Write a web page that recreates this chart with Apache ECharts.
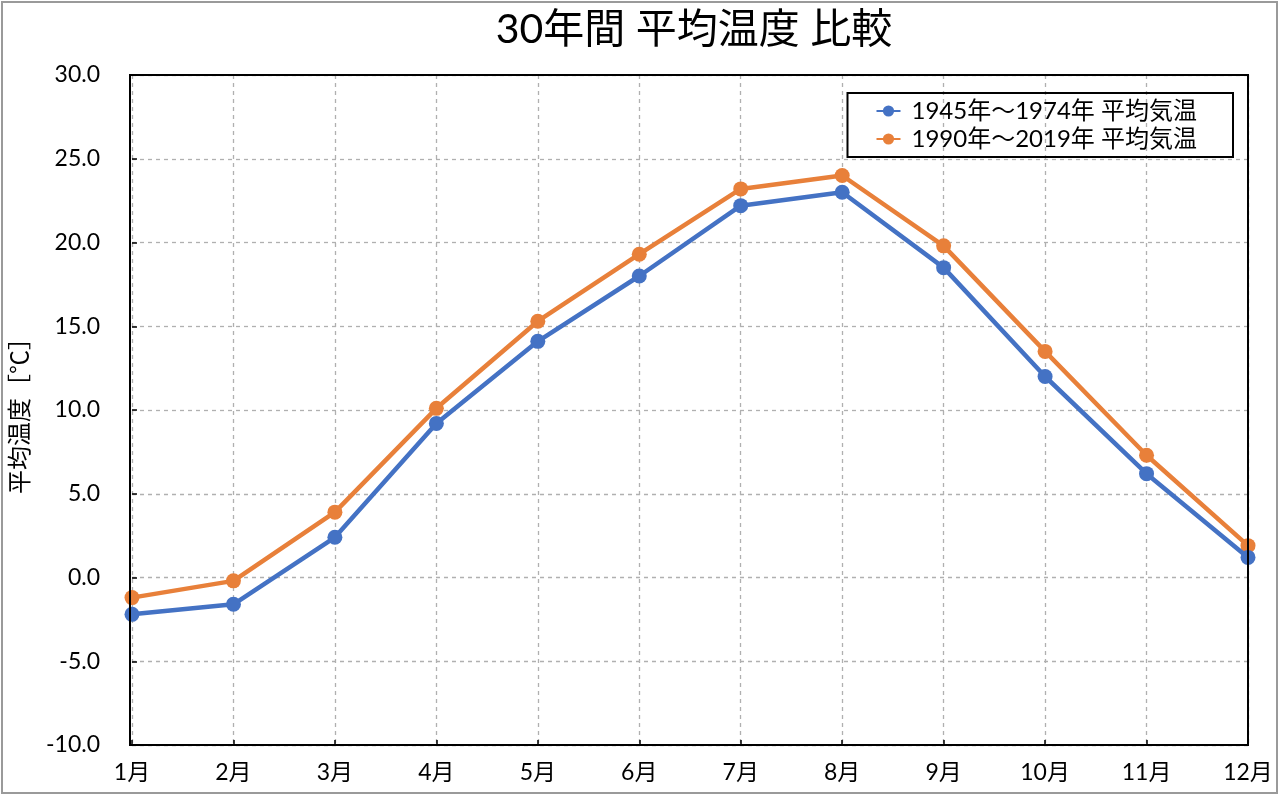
<!DOCTYPE html>
<html><head><meta charset="utf-8">
<script src="https://cdn.jsdelivr.net/npm/echarts@6/dist/echarts.min.js"></script>
<style>html,body{margin:0;padding:0;background:#fff}#c{width:1280px;height:796px}</style>
</head><body><div id="c"></div>
<script>
const months = ['1月','2月','3月','4月','5月','6月','7月','8月','9月','10月','11月','12月'];
const seriesOld = [-2.2,-1.6,2.4,9.2,14.1,18.0,22.2,23.0,18.5,12.0,6.2,1.2];
const seriesNew = [-1.2,-0.2,3.9,10.1,15.3,19.3,23.2,24.0,19.8,13.5,7.3,1.9];
const nameOld = '1945年～1974年 平均気温';
const nameNew = '1990年～2019年 平均気温';
const titleText = '30年間 平均温度 比較';
const yName = '平均温度［℃］';
const FONT = 'Lato, "Noto Sans CJK JP", sans-serif';
const chart = echarts.init(document.getElementById('c'));
chart.setOption({
  backgroundColor:'#fff',
  textStyle:{fontFamily:FONT},
  graphic:[
    {type:'rect',shape:{x:2,y:2,width:1275,height:791},style:{fill:'none',stroke:'#9a9a9a',lineWidth:2},silent:true},
    {type:'rect',shape:{x:130,y:75,width:1118,height:670},style:{fill:'none',stroke:'#000',lineWidth:2},silent:true,z:10}
  ],
  title:{text:titleText,left:689,textAlign:'center',top:4,textStyle:{fontFamily:FONT,fontSize:41,fontWeight:'normal',color:'#000'}},
  legend:{
    right:47, top:93, orient:'vertical',
    borderColor:'#000', borderWidth:2, padding:[6,36,6,28],
    itemGap:4, itemWidth:24, itemHeight:14,
    textStyle:{fontFamily:FONT,fontSize:24,color:'#000',padding:[0,0,0,6]},
    data:[nameOld,nameNew]
  },
  grid:{left:130,right:32,top:75,bottom:51,containLabel:false},
  xAxis:{
    type:'category',data:months,boundaryGap:false,
    axisLine:{show:false,onZero:false},
    axisTick:{show:true,alignWithLabel:true,inside:true,length:5,lineStyle:{color:'#000',width:1.5}},
    axisLabel:{fontFamily:FONT,fontSize:23,color:'#000',margin:16},
    splitLine:{show:true,lineStyle:{color:'#b0b0b0',type:[4,4],width:1.3}}
  },
  yAxis:{
    type:'value',min:-10,max:30,interval:5,
    name:yName,nameLocation:'middle',nameGap:100,nameRotate:90,
    nameTextStyle:{fontFamily:FONT,fontSize:24,color:'#000'},
    axisLine:{show:false},
    axisTick:{show:true,inside:true,length:5,lineStyle:{color:'#000',width:1.5}},
    axisLabel:{fontFamily:FONT,fontSize:23,color:'#000',margin:32,formatter:v=>v.toFixed(1)},
    splitLine:{show:true,lineStyle:{color:'#b0b0b0',type:[4,4],width:1.3}}
  },
  series:[
    {name:nameOld,type:'line',data:seriesOld,symbol:'circle',symbolSize:15,
     lineStyle:{color:'#4472C4',width:4.5},itemStyle:{color:'#4472C4'},z:3},
    {name:nameNew,type:'line',data:seriesNew,symbol:'circle',symbolSize:15,
     lineStyle:{color:'#E8803A',width:4.5},itemStyle:{color:'#E8803A'},z:2}
  ]
});
</script></body></html>
